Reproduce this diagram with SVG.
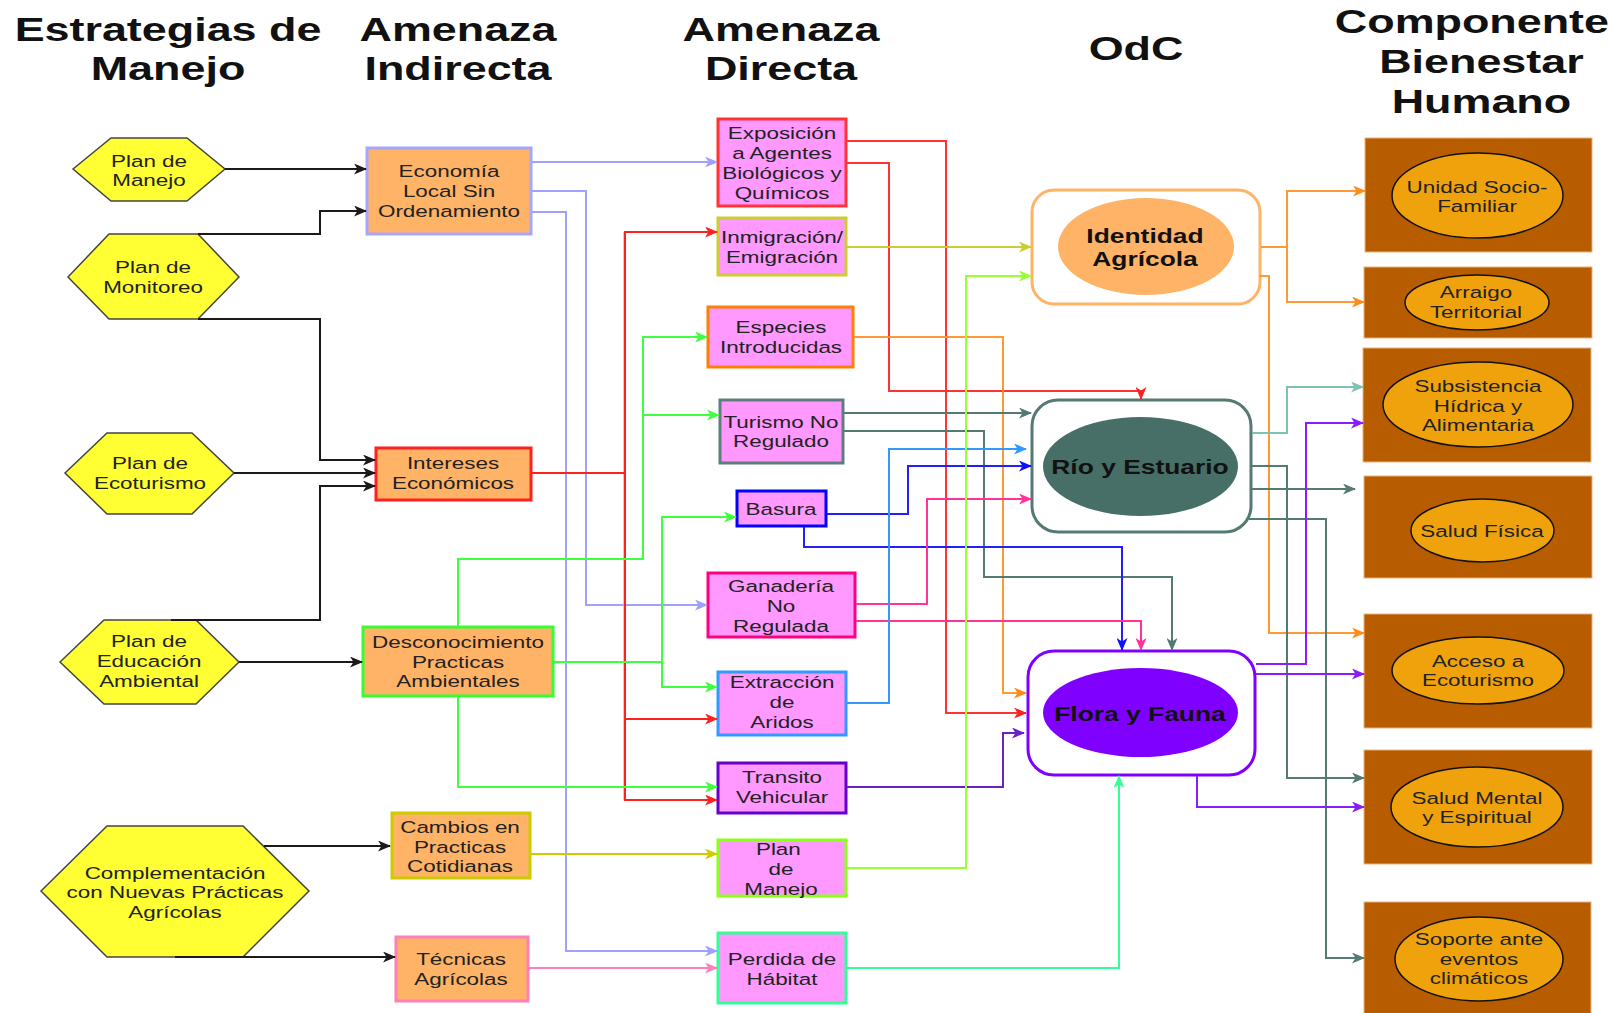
<svg xmlns="http://www.w3.org/2000/svg" width="1620" height="1013" viewBox="0 0 1620 1013">
<style>
.t{font-family:"Liberation Sans",Arial,sans-serif;font-size:17px;fill:#222;text-anchor:middle}
.h{font-family:"Liberation Sans",Arial,sans-serif;font-size:33px;font-weight:bold;fill:#111;text-anchor:middle}
.b{font-family:"Liberation Sans",Arial,sans-serif;font-size:20px;font-weight:bold;fill:#111;text-anchor:middle}
.hex{fill:#FFFF33;stroke:#444;stroke-width:1.5}
.ob{fill:#FFB366;stroke-width:3}
.pb{fill:#FF99FF;stroke-width:3}
.odc{fill:#fff;stroke-width:3}
.br{fill:#B85C00;stroke:#E9B27D;stroke-width:1}
.be{fill:#EFA20C;stroke:#111;stroke-width:1.5}
#edges path{fill:none;stroke-width:2}
</style>
<defs>
<marker id="m-black" viewBox="0 0 13 11" refX="12" refY="5.5" markerWidth="13" markerHeight="11" markerUnits="userSpaceOnUse" orient="auto"><path d="M0,0 L13,5.5 L0,11 L3.5,5.5 Z" fill="#1a1a1a"/></marker>
<marker id="m-lav" viewBox="0 0 13 11" refX="12" refY="5.5" markerWidth="13" markerHeight="11" markerUnits="userSpaceOnUse" orient="auto"><path d="M0,0 L13,5.5 L0,11 L3.5,5.5 Z" fill="#A0A0FF"/></marker>
<marker id="m-red" viewBox="0 0 13 11" refX="12" refY="5.5" markerWidth="13" markerHeight="11" markerUnits="userSpaceOnUse" orient="auto"><path d="M0,0 L13,5.5 L0,11 L3.5,5.5 Z" fill="#FF2020"/></marker>
<marker id="m-green" viewBox="0 0 13 11" refX="12" refY="5.5" markerWidth="13" markerHeight="11" markerUnits="userSpaceOnUse" orient="auto"><path d="M0,0 L13,5.5 L0,11 L3.5,5.5 Z" fill="#40FF40"/></marker>
<marker id="m-olive" viewBox="0 0 13 11" refX="12" refY="5.5" markerWidth="13" markerHeight="11" markerUnits="userSpaceOnUse" orient="auto"><path d="M0,0 L13,5.5 L0,11 L3.5,5.5 Z" fill="#CCCC00"/></marker>
<marker id="m-olive2" viewBox="0 0 13 11" refX="12" refY="5.5" markerWidth="13" markerHeight="11" markerUnits="userSpaceOnUse" orient="auto"><path d="M0,0 L13,5.5 L0,11 L3.5,5.5 Z" fill="#CCCC33"/></marker>
<marker id="m-pinkl" viewBox="0 0 13 11" refX="12" refY="5.5" markerWidth="13" markerHeight="11" markerUnits="userSpaceOnUse" orient="auto"><path d="M0,0 L13,5.5 L0,11 L3.5,5.5 Z" fill="#FF80B8"/></marker>
<marker id="m-orange" viewBox="0 0 13 11" refX="12" refY="5.5" markerWidth="13" markerHeight="11" markerUnits="userSpaceOnUse" orient="auto"><path d="M0,0 L13,5.5 L0,11 L3.5,5.5 Z" fill="#FF8C1A"/></marker>
<marker id="m-teal" viewBox="0 0 13 11" refX="12" refY="5.5" markerWidth="13" markerHeight="11" markerUnits="userSpaceOnUse" orient="auto"><path d="M0,0 L13,5.5 L0,11 L3.5,5.5 Z" fill="#557A74"/></marker>
<marker id="m-tealL" viewBox="0 0 13 11" refX="12" refY="5.5" markerWidth="13" markerHeight="11" markerUnits="userSpaceOnUse" orient="auto"><path d="M0,0 L13,5.5 L0,11 L3.5,5.5 Z" fill="#7EC2B2"/></marker>
<marker id="m-blue" viewBox="0 0 13 11" refX="12" refY="5.5" markerWidth="13" markerHeight="11" markerUnits="userSpaceOnUse" orient="auto"><path d="M0,0 L13,5.5 L0,11 L3.5,5.5 Z" fill="#1010FF"/></marker>
<marker id="m-pink" viewBox="0 0 13 11" refX="12" refY="5.5" markerWidth="13" markerHeight="11" markerUnits="userSpaceOnUse" orient="auto"><path d="M0,0 L13,5.5 L0,11 L3.5,5.5 Z" fill="#FF3399"/></marker>
<marker id="m-blueL" viewBox="0 0 13 11" refX="12" refY="5.5" markerWidth="13" markerHeight="11" markerUnits="userSpaceOnUse" orient="auto"><path d="M0,0 L13,5.5 L0,11 L3.5,5.5 Z" fill="#3399FF"/></marker>
<marker id="m-purpD" viewBox="0 0 13 11" refX="12" refY="5.5" markerWidth="13" markerHeight="11" markerUnits="userSpaceOnUse" orient="auto"><path d="M0,0 L13,5.5 L0,11 L3.5,5.5 Z" fill="#6A1FC8"/></marker>
<marker id="m-lgreen" viewBox="0 0 13 11" refX="12" refY="5.5" markerWidth="13" markerHeight="11" markerUnits="userSpaceOnUse" orient="auto"><path d="M0,0 L13,5.5 L0,11 L3.5,5.5 Z" fill="#99FF33"/></marker>
<marker id="m-sgreen" viewBox="0 0 13 11" refX="12" refY="5.5" markerWidth="13" markerHeight="11" markerUnits="userSpaceOnUse" orient="auto"><path d="M0,0 L13,5.5 L0,11 L3.5,5.5 Z" fill="#33FF99"/></marker>
<marker id="m-purple" viewBox="0 0 13 11" refX="12" refY="5.5" markerWidth="13" markerHeight="11" markerUnits="userSpaceOnUse" orient="auto"><path d="M0,0 L13,5.5 L0,11 L3.5,5.5 Z" fill="#8A1CFF"/></marker>
</defs>
<rect width="1620" height="1013" fill="#fff"/>

<g id="titles">
<text class="h" transform="matrix(1.36 0 0 1 168 0)"><tspan x="0" y="41">Estrategias de</tspan><tspan x="0" y="80">Manejo</tspan></text>
<text class="h" transform="matrix(1.36 0 0 1 458 0)"><tspan x="0" y="41">Amenaza</tspan><tspan x="0" y="80">Indirecta</tspan></text>
<text class="h" transform="matrix(1.36 0 0 1 781 0)"><tspan x="0" y="41">Amenaza</tspan><tspan x="0" y="80">Directa</tspan></text>
<text class="h" transform="matrix(1.36 0 0 1 1136 0)"><tspan x="0" y="60">OdC</tspan></text>
<text class="h" transform="matrix(1.36 0 0 1 1476 0)"><tspan x="-3" y="33">Componente</tspan><tspan x="4" y="73">Bienestar</tspan><tspan x="4" y="113">Humano</tspan></text>
</g>

<g id="n-plan-manejo"><polygon class="hex" points="73,169 111,138 187,138 225,169 187,201 111,201"/>
<text class="t" transform="matrix(1.32 0 0 1 149 0)"><tspan x="0" y="167">Plan de</tspan><tspan x="0" y="186">Manejo</tspan></text></g>
<g id="n-plan-monitoreo"><polygon class="hex" points="68,277 109,234 198,234 239,277 198,319 109,319"/>
<text class="t" transform="matrix(1.32 0 0 1 153 0)"><tspan x="0" y="273">Plan de</tspan><tspan x="0" y="293">Monitoreo</tspan></text></g>
<g id="n-plan-ecoturismo"><polygon class="hex" points="65,473 107,433 192,433 234,473 192,514 107,514"/>
<text class="t" transform="matrix(1.32 0 0 1 150 0)"><tspan x="0" y="469">Plan de</tspan><tspan x="0" y="489">Ecoturismo</tspan></text></g>
<g id="n-plan-educacion"><polygon class="hex" points="60,662 104,620 196,620 239,662 196,704 104,704"/>
<text class="t" transform="matrix(1.32 0 0 1 149 0)"><tspan x="0" y="647">Plan de</tspan><tspan x="0" y="667">Educación</tspan><tspan x="0" y="687">Ambiental</tspan></text></g>
<g id="n-complementacion"><polygon class="hex" points="41,891 107,826 243,826 309,891 243,957 107,957"/>
<text class="t" transform="matrix(1.32 0 0 1 175 0)"><tspan x="0" y="879">Complementación</tspan><tspan x="0" y="898">con Nuevas Prácticas</tspan><tspan x="0" y="918">Agrícolas</tspan></text></g>

<g id="n-economia"><rect class="ob" x="367" y="148" width="164" height="86" stroke="#A6A6FF"/>
<text class="t" transform="matrix(1.32 0 0 1 449 0)"><tspan x="0" y="177">Economía</tspan><tspan x="0" y="197">Local Sin</tspan><tspan x="0" y="217">Ordenamiento</tspan></text></g>
<g id="n-intereses"><rect class="ob" x="376" y="448" width="155" height="52" stroke="#FF2020"/>
<text class="t" transform="matrix(1.32 0 0 1 453 0)"><tspan x="0" y="469">Intereses</tspan><tspan x="0" y="489">Económicos</tspan></text></g>
<g id="n-desconocimiento"><rect class="ob" x="363" y="627" width="190" height="69" stroke="#33FF33"/>
<text class="t" transform="matrix(1.32 0 0 1 458 0)"><tspan x="0" y="648">Desconocimiento</tspan><tspan x="0" y="668">Practicas</tspan><tspan x="0" y="687">Ambientales</tspan></text></g>
<g id="n-cambios"><rect class="ob" x="392" y="813" width="138" height="65" stroke="#CCCC00" stroke-width="4"/>
<text class="t" transform="matrix(1.32 0 0 1 460 0)"><tspan x="0" y="833">Cambios en</tspan><tspan x="0" y="853">Practicas</tspan><tspan x="0" y="872">Cotidianas</tspan></text></g>
<g id="n-tecnicas"><rect class="ob" x="396" y="937" width="132" height="64" stroke="#FF80B8"/>
<text class="t" transform="matrix(1.32 0 0 1 461 0)"><tspan x="0" y="965">Técnicas</tspan><tspan x="0" y="985">Agrícolas</tspan></text></g>

<g id="n-exposicion"><rect class="pb" x="718" y="119" width="128" height="87" stroke="#FF3333"/>
<text class="t" transform="matrix(1.32 0 0 1 782 0)"><tspan x="0" y="139">Exposición</tspan><tspan x="0" y="159">a Agentes</tspan><tspan x="0" y="179">Biológicos y</tspan><tspan x="0" y="199">Químicos</tspan></text></g>
<g id="n-inmigracion"><rect class="pb" x="718" y="218" width="128" height="57" stroke="#CCCC33"/>
<text class="t" transform="matrix(1.32 0 0 1 782 0)"><tspan x="0" y="243">Inmigración/</tspan><tspan x="0" y="263">Emigración</tspan></text></g>
<g id="n-especies"><rect class="pb" x="708" y="307" width="145" height="60" stroke="#FF8000" stroke-width="4"/>
<text class="t" transform="matrix(1.32 0 0 1 781 0)"><tspan x="0" y="333">Especies</tspan><tspan x="0" y="353">Introducidas</tspan></text></g>
<g id="n-turismo"><rect class="pb" x="720" y="400" width="123" height="63" stroke="#5E7E7E"/>
<text class="t" transform="matrix(1.32 0 0 1 781 0)"><tspan x="0" y="428">Turismo No</tspan><tspan x="0" y="447">Regulado</tspan></text></g>
<g id="n-basura"><rect class="pb" x="737" y="491" width="89" height="35" stroke="#0000FF"/>
<text class="t" transform="matrix(1.32 0 0 1 781 0)"><tspan x="0" y="515">Basura</tspan></text></g>
<g id="n-ganaderia"><rect class="pb" x="708" y="573" width="147" height="64" stroke="#FF0080" stroke-width="4"/>
<text class="t" transform="matrix(1.32 0 0 1 781 0)"><tspan x="0" y="592">Ganadería</tspan><tspan x="0" y="612">No</tspan><tspan x="0" y="632">Regulada</tspan></text></g>
<g id="n-extraccion"><rect class="pb" x="718" y="672" width="128" height="63" stroke="#3399FF"/>
<text class="t" transform="matrix(1.32 0 0 1 782 0)"><tspan x="0" y="688">Extracción</tspan><tspan x="0" y="708">de</tspan><tspan x="0" y="728">Aridos</tspan></text></g>
<g id="n-transito"><rect class="pb" x="718" y="763" width="128" height="50" stroke="#6600CC"/>
<text class="t" transform="matrix(1.32 0 0 1 782 0)"><tspan x="0" y="783">Transito</tspan><tspan x="0" y="803">Vehicular</tspan></text></g>
<g id="n-plan-manejo-2"><rect class="pb" x="718" y="840" width="128" height="56" stroke="#8CFF1A"/>
<text class="t" transform="matrix(1.32 0 0 1 781 0)"><tspan x="-2" y="855">Plan</tspan><tspan x="0" y="875">de</tspan><tspan x="0" y="895">Manejo</tspan></text></g>
<g id="n-perdida"><rect class="pb" x="718" y="933" width="128" height="70" stroke="#33FF99"/>
<text class="t" transform="matrix(1.32 0 0 1 782 0)"><tspan x="0" y="965">Perdida de</tspan><tspan x="0" y="985">Hábitat</tspan></text></g>

<g id="n-identidad"><rect class="odc" x="1032" y="190" width="228" height="114" rx="22" stroke="#FFB366"/>
<ellipse cx="1146" cy="246.5" rx="88" ry="48.5" fill="#FFB366"/>
<text class="b" transform="matrix(1.32 0 0 1 1145 0)"><tspan x="0" y="243">Identidad</tspan><tspan x="0" y="266">Agrícola</tspan></text></g>
<g id="n-rio"><rect class="odc" x="1032" y="400" width="219" height="132" rx="26" stroke="#557A74"/>
<ellipse cx="1140.5" cy="466.5" rx="97.5" ry="49.5" fill="#476F68"/>
<text class="b" transform="matrix(1.32 0 0 1 1140 0)"><tspan x="0" y="474">Río y Estuario</tspan></text></g>
<g id="n-flora"><rect class="odc" x="1028" y="651" width="227" height="124" rx="26" stroke="#8000FF"/>
<ellipse cx="1140.5" cy="712.5" rx="97.5" ry="44.5" fill="#7F00FF"/>
<text class="b" transform="matrix(1.32 0 0 1 1140 0)"><tspan x="0" y="721">Flora y Fauna</tspan></text></g>

<g id="n-unidad"><rect class="br" x="1365" y="138" width="227" height="114"/><ellipse class="be" cx="1477.5" cy="195.5" rx="85.5" ry="42.5"/>
<text class="t" transform="matrix(1.32 0 0 1 1477 0)"><tspan x="0" y="193">Unidad Socio-</tspan><tspan x="0" y="212">Familiar</tspan></text></g>
<g id="n-arraigo"><rect class="br" x="1364" y="267" width="228" height="71"/><ellipse class="be" cx="1477" cy="302.5" rx="72" ry="27.5"/>
<text class="t" transform="matrix(1.32 0 0 1 1476 0)"><tspan x="0" y="298">Arraigo</tspan><tspan x="0" y="318">Territorial</tspan></text></g>
<g id="n-subsistencia"><rect class="br" x="1363" y="348" width="228" height="114"/><ellipse class="be" cx="1478" cy="404.5" rx="95" ry="42.5"/>
<text class="t" transform="matrix(1.32 0 0 1 1478 0)"><tspan x="0" y="392">Subsistencia</tspan><tspan x="0" y="412">Hídrica y</tspan><tspan x="0" y="431">Alimentaria</tspan></text></g>
<g id="n-salud-fisica"><rect class="br" x="1364" y="476" width="228" height="102"/><ellipse class="be" cx="1482.5" cy="530.5" rx="71.5" ry="31.5"/>
<text class="t" transform="matrix(1.32 0 0 1 1482 0)"><tspan x="0" y="537">Salud Física</tspan></text></g>
<g id="n-acceso"><rect class="br" x="1364" y="614" width="228" height="114"/><ellipse class="be" cx="1478" cy="670.5" rx="86" ry="33.5"/>
<text class="t" transform="matrix(1.32 0 0 1 1478 0)"><tspan x="0" y="667">Acceso a</tspan><tspan x="0" y="686">Ecoturismo</tspan></text></g>
<g id="n-salud-mental"><rect class="br" x="1364" y="750" width="228" height="114"/><ellipse class="be" cx="1477" cy="807" rx="86" ry="40"/>
<text class="t" transform="matrix(1.32 0 0 1 1477 0)"><tspan x="0" y="804">Salud Mental</tspan><tspan x="0" y="823">y Espiritual</tspan></text></g>
<g id="n-soporte"><rect class="br" x="1364" y="902" width="227" height="115"/><ellipse class="be" cx="1479" cy="959" rx="84" ry="42"/>
<text class="t" transform="matrix(1.32 0 0 1 1479 0)"><tspan x="0" y="945">Soporte ante</tspan><tspan x="0" y="965">eventos</tspan><tspan x="0" y="984">climáticos</tspan></text></g>

<g id="edges">
<path d="M225,169 H366" stroke="#1a1a1a" marker-end="url(#m-black)"/>
<path d="M198,234 H320 V211 H366" stroke="#1a1a1a" marker-end="url(#m-black)"/>
<path d="M198,319 H320 V460 H375" stroke="#1a1a1a" marker-end="url(#m-black)"/>
<path d="M234,473 H375" stroke="#1a1a1a" marker-end="url(#m-black)"/>
<path d="M171,620 H320 V486 H375" stroke="#1a1a1a" marker-end="url(#m-black)"/>
<path d="M239,662 H362" stroke="#1a1a1a" marker-end="url(#m-black)"/>
<path d="M264,846 H390" stroke="#1a1a1a" marker-end="url(#m-black)"/>
<path d="M175,957 H395" stroke="#1a1a1a" marker-end="url(#m-black)"/>

<path d="M532,162 H717" stroke="#A0A0FF" marker-end="url(#m-lav)"/>
<path d="M532,191 H586 V605 H707" stroke="#A0A0FF" marker-end="url(#m-lav)"/>
<path d="M532,212 H566 V951 H717" stroke="#A0A0FF" marker-end="url(#m-lav)"/>

<path d="M624,232 V800" stroke="#FF9A9A" stroke-width="5" opacity="0.7"/>
<path d="M532,473 H625 V232 H717" stroke="#FF2020" marker-end="url(#m-red)"/>
<path d="M625,473 V719 H717" stroke="#FF2020" marker-end="url(#m-red)"/>
<path d="M625,719 V800 H717" stroke="#FF2020" marker-end="url(#m-red)"/>

<path d="M458,626 V559 H643 V337 H707" stroke="#40FF40" marker-end="url(#m-green)"/>
<path d="M643,415 H719" stroke="#40FF40" marker-end="url(#m-green)"/>
<path d="M554,662 H662 V517 H736" stroke="#40FF40" marker-end="url(#m-green)"/>
<path d="M662,662 V687 H717" stroke="#40FF40" marker-end="url(#m-green)"/>
<path d="M458,697 V787 H717" stroke="#40FF40" marker-end="url(#m-green)"/>

<path d="M531,854 H717" stroke="#CCCC00" marker-end="url(#m-olive)"/>
<path d="M529,968 H717" stroke="#FF80B8" marker-end="url(#m-pinkl)"/>

<path d="M847,141 H946 V713 H1026" stroke="#FF3333" marker-end="url(#m-red)"/>
<path d="M847,163 H889 V391 H1141 V399" stroke="#FF3333" marker-end="url(#m-red)"/>
<path d="M847,247 H1031" stroke="#CCCC33" marker-end="url(#m-olive2)"/>
<path d="M854,337 H1003 V693 H1026" stroke="#FF9933" marker-end="url(#m-orange)"/>
<path d="M844,413 H1031" stroke="#557A74" marker-end="url(#m-teal)"/>
<path d="M844,431 H984 V577 H1172 V650" stroke="#557A74" marker-end="url(#m-teal)"/>
<path d="M827,514 H908 V466 H1031" stroke="#2020FF" marker-end="url(#m-blue)"/>
<path d="M804,527 V547 H1122 V650" stroke="#2020FF" marker-end="url(#m-blue)"/>
<path d="M856,604 H927 V499 H1031" stroke="#FF3399" marker-end="url(#m-pink)"/>
<path d="M856,621 H1141 V650" stroke="#FF3399" marker-end="url(#m-pink)"/>
<path d="M847,703 H889 V449 H1026" stroke="#3399FF" marker-end="url(#m-blueL)"/>
<path d="M847,787 H1003 V733 H1024" stroke="#6A1FC8" marker-end="url(#m-purpD)"/>
<path d="M847,868 H966 V276 H1031" stroke="#99FF33" marker-end="url(#m-lgreen)"/>
<path d="M847,968 H1119 V776" stroke="#33FF99" marker-end="url(#m-sgreen)"/>

<path d="M1261,247 H1287 V191 H1365" stroke="#FF9933" marker-end="url(#m-orange)"/>
<path d="M1287,247 V302 H1364" stroke="#FF9933" marker-end="url(#m-orange)"/>
<path d="M1259,276 H1269 V633 H1364" stroke="#FF9933" marker-end="url(#m-orange)"/>

<path d="M1252,433 H1287 V387 H1363" stroke="#7EC2B2" marker-end="url(#m-tealL)"/>
<path d="M1252,466 H1287 V778 H1364" stroke="#557A74" marker-end="url(#m-teal)"/>
<path d="M1252,489 H1355" stroke="#557A74" marker-end="url(#m-teal)"/>
<path d="M1249,519 H1326 V958 H1364" stroke="#557A74" marker-end="url(#m-teal)"/>

<path d="M1256,664 H1306 V423 H1363" stroke="#8A1CFF" marker-end="url(#m-purple)"/>
<path d="M1256,674 H1364" stroke="#8A1CFF" marker-end="url(#m-purple)"/>
<path d="M1197,776 V807 H1364" stroke="#8A1CFF" marker-end="url(#m-purple)"/>
</g>
</svg>
